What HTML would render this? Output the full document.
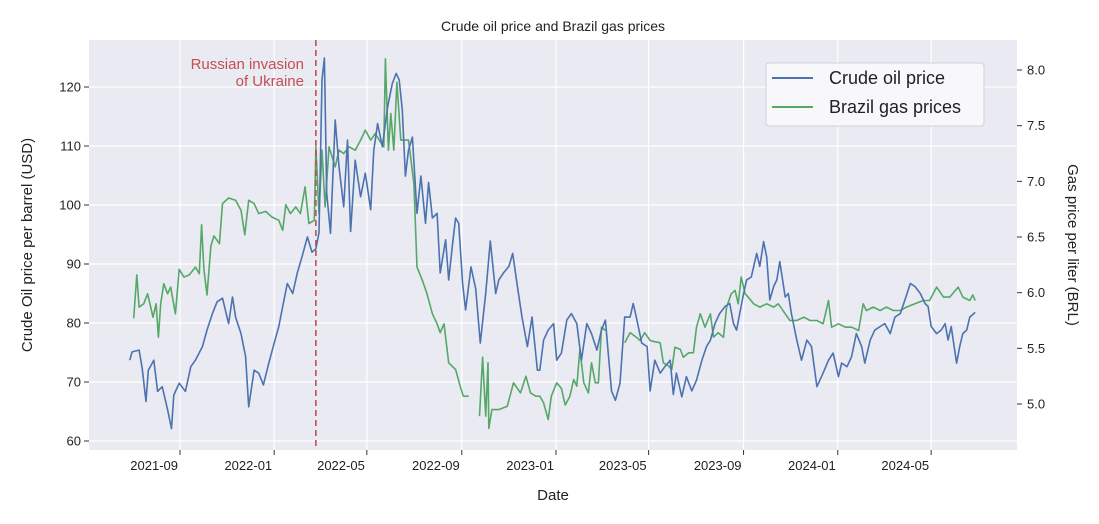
<!DOCTYPE html>
<html><head><meta charset="utf-8">
<style>
html,body{margin:0;padding:0;background:#fff;}
svg{display:block;font-family:"Liberation Sans","DejaVu Sans",sans-serif;}
</style></head>
<body>
<svg id="chart" width="1099" height="524" viewBox="0 0 1099 524" xmlns="http://www.w3.org/2000/svg">
<text x="553" y="31" font-size="14" text-anchor="middle" fill="#222">Crude oil price and Brazil gas prices</text>
<rect x="89" y="40" width="928" height="410" fill="#eaeaf2"/>
<g id="grid"></g>
<g id="series"></g>
<g id="axes"></g>
<text x="553" y="500" font-size="15" text-anchor="middle" fill="#222">Date</text>
<text transform="translate(32,245) rotate(-90)" font-size="15" text-anchor="middle" fill="#222">Crude Oil price per barrel (USD)</text>
<text transform="translate(1068,245) rotate(90)" font-size="15" text-anchor="middle" fill="#222">Gas price per liter (BRL)</text>
<text x="304" y="69" font-size="15" text-anchor="end" fill="#c44e52">Russian invasion</text>
<text x="304" y="86" font-size="15" text-anchor="end" fill="#c44e52">of Ukraine</text>
<g>
<rect x="766" y="63" width="218" height="63" rx="3" fill="#f8f8fb" stroke="#d0d0d8" stroke-width="1"/>
<line x1="772" y1="78" x2="813" y2="78" stroke="#4c72b0" stroke-width="2"/>
<text x="829" y="84" font-size="18" fill="#222">Crude oil price</text>
<line x1="772" y1="107" x2="813" y2="107" stroke="#55a868" stroke-width="2"/>
<text x="829" y="113" font-size="18" fill="#222">Brazil gas prices</text>
</g>
</svg>
<script>
// days since 2021-09-01
const crudeDays = [-65,-62,-53,-49,-44,-41,-34,-29,-23,-16,-11,-8,-1,7,14,20,29,35,42,48,55,63,68,72,79,85,89,96,102,108,115,122,128,133,139,146,152,158,165,171,176,180,184,187,190,195,201,206,212,217,221,227,234,240,247,251,256,262,269,275,280,284,288,292,296,301,307,312,318,322,327,333,337,344,348,353,357,361,366,370,377,383,389,396,402,409,413,419,426,431,437,443,450,456,463,466,471,477,484,488,494,501,507,514,520,527,533,540,546,551,559,564,570,576,583,587,591,598,605,609,615,622,628,635,639,643,650,656,663,669,676,682,687,693,699,706,712,717,721,725,730,734,740,747,751,756,760,764,769,773,777,784,788,792,799,805,812,818,825,833,840,846,853,857,864,870,876,883,887,894,900,907,913,920,926,933,939,946,952,959,965,969,973,980,986,991,995,999,1006,1010,1014,1019,1023,1030];
const crudeValues = [73.7,75.1,75.4,72.3,66.7,72.0,73.7,68.4,69.2,65.3,62.1,67.8,69.8,68.4,72.6,73.7,76.0,78.8,81.6,83.6,84.2,79.9,84.4,81.0,78.2,74.3,65.8,72.0,71.5,69.5,73.2,76.6,79.4,82.8,86.7,85.0,88.5,91.2,94.6,92.0,92.6,95.3,121.2,124.9,102.0,95.2,114.4,106.5,99.7,111.0,95.5,107.6,101.4,105.4,99.2,109.3,113.8,109.9,116.7,120.6,122.3,121.2,116.1,104.9,109.3,111.5,98.6,104.9,96.9,103.8,97.8,98.6,88.5,94.1,87.3,93.3,97.8,96.9,86.7,82.2,89.5,85.8,76.6,85.0,93.9,85.0,87.3,88.5,89.6,91.8,86.2,81.0,76.0,81.0,72.0,72.0,77.1,78.8,79.9,73.7,74.9,80.5,81.6,79.9,73.7,79.9,78.2,75.4,78.8,80.5,68.5,66.9,69.8,81.0,81.0,83.3,81.0,76.6,76.0,68.5,73.7,71.5,72.6,73.7,67.9,71.5,67.5,70.9,68.5,70.3,73.7,76.0,77.1,79.9,81.6,82.8,83.3,79.9,78.8,81.6,85.0,87.3,87.8,91.8,89.6,93.8,91.2,83.9,86.2,87.3,90.4,84.4,85.0,81.6,77.1,73.7,77.1,76.0,69.2,71.5,73.7,74.9,70.9,73.2,72.6,74.3,78.2,76.0,73.2,77.1,78.8,79.4,79.9,78.2,81.0,81.6,83.9,86.7,86.2,85.0,83.3,82.8,79.4,78.2,78.8,79.9,77.1,79.4,73.2,76.0,78.2,78.8,81.0,81.8];
const gasDays = [-60,-56,-53,-47,-42,-38,-35,-31,-28,-25,-21,-16,-12,-6,-1,5,12,20,25,28,31,35,40,44,51,55,63,72,79,84,89,96,102,111,119,128,133,137,143,150,156,162,167,174,176,180,184,188,193,201,206,212,219,227,234,240,247,253,258,264,266,270,273,277,281,286,290,296,303,307,314,320,327,333,337,342,348,357,363,367,374,380,388,392,396,399,400,404,413,424,432,441,448,454,461,466,471,477,481,488,494,499,505,510,514,518,523,529,533,538,542,546,551,560,576,583,591,596,602,609,615,622,626,633,637,641,648,652,659,665,669,674,680,687,691,697,704,708,714,719,723,727,732,736,743,751,760,769,775,784,790,799,808,816,825,833,840,844,853,862,870,879,885,889,898,907,915,924,933,941,952,963,971,980,989,997,1008,1014,1023,1027,1030];
const gasValues = [5.77,6.16,5.87,5.90,5.99,5.87,5.78,5.90,5.60,5.90,6.08,5.99,6.05,5.81,6.21,6.14,6.16,6.23,6.17,6.61,6.21,5.98,6.42,6.51,6.44,6.80,6.85,6.83,6.74,6.52,6.83,6.80,6.71,6.73,6.68,6.65,6.56,6.79,6.71,6.77,6.71,6.95,6.62,6.65,7.31,6.71,7.28,6.77,7.31,7.13,7.28,7.25,7.31,7.28,7.37,7.46,7.37,7.43,7.37,7.31,8.10,7.28,7.61,7.28,7.89,7.37,7.37,7.37,6.98,6.23,6.11,5.99,5.81,5.72,5.64,5.72,5.37,5.31,5.16,5.07,5.07,null,4.89,5.42,4.89,5.37,4.78,4.95,4.95,4.98,5.19,5.10,5.25,5.10,5.07,5.07,5.01,4.86,5.07,5.19,5.14,4.99,5.07,5.22,5.16,5.49,5.19,5.10,5.37,5.19,5.19,5.69,5.66,null,5.55,5.64,5.60,5.57,5.64,5.57,5.56,5.55,5.37,5.34,5.31,5.51,5.49,5.42,5.46,5.46,5.69,5.81,5.69,5.81,5.60,5.64,5.60,5.87,5.99,6.02,5.90,6.14,5.99,5.96,5.90,5.87,5.90,5.87,5.90,5.81,5.75,5.75,5.78,5.75,5.75,5.72,5.93,5.69,5.72,5.69,5.69,5.66,5.90,5.84,5.87,5.84,5.87,5.84,5.84,5.87,5.90,5.93,5.93,6.05,5.96,5.96,6.05,5.96,5.93,5.98,5.93];
const xTickLabels = ["2021-09","2022-01","2022-05","2022-09","2023-01","2023-05","2023-09","2024-01","2024-05"];
const xTickDays = [0,122,242,365,487,607,730,852,973];
const leftTicks = [60,70,80,90,100,110,120];
const rightTicks = [5.0,5.5,6.0,6.5,7.0,7.5,8.0];
const invasionDay = 176;

const NS="http://www.w3.org/2000/svg";
const X0=89,X1=1017,Y0=40,Y1=450;
function xScale(d){return 180+d*0.772;}
function yLeft(v){return 441-(v-60)*5.9;}
function yRight(v){return 404-(v-5)*111.33;}
function mk(tag,attrs,parent){const e=document.createElementNS(NS,tag);for(const k in attrs)e.setAttribute(k,attrs[k]);parent.appendChild(e);return e;}
const grid=document.getElementById('grid'),axes=document.getElementById('axes'),series=document.getElementById('series');

leftTicks.forEach(v=>{
  const y=yLeft(v);
  const g=mk('line',{x1:X0,x2:X1,y1:y,y2:y,stroke:'#fff','stroke-width':1.2},grid);
  
  
  mk('line',{x1:X0-5,x2:X0,y1:y,y2:y,stroke:'#333','stroke-width':1},axes);
  const t=mk('text',{x:X0-8,y:y+4.5,'font-size':13,'text-anchor':'end',fill:'#222'},axes);
  t.textContent=String(v);
  
  
});
rightTicks.forEach(v=>{
  const y=yRight(v);
  mk('line',{x1:X1,x2:X1+5,y1:y,y2:y,stroke:'#333','stroke-width':1},axes);
  const t=mk('text',{x:X1+10,y:y+4.5,'font-size':13,'text-anchor':'start',fill:'#222'},axes);
  t.textContent=v.toFixed(1);
  
  
});
xTickDays.forEach((d,i)=>{
  const x=xScale(d);
  const g=mk('line',{x1:x,x2:x,y1:Y0,y2:Y1,stroke:'#fff','stroke-width':1.2},grid);
  
  
  mk('line',{x1:x,x2:x,y1:Y1,y2:Y1+5,stroke:'#333','stroke-width':1},axes);
  const t=mk('text',{x:x-2,y:Y1+20,'font-size':13,'text-anchor':'end',fill:'#222'},axes);
  t.textContent=xTickLabels[i];
  
  
});

function pathFor(days,vals,ys){
  let d='',pen=false;
  for(let i=0;i<days.length;i++){
    if(vals[i]===null){pen=false;continue;}
    d+=(pen?'L':'M')+xScale(days[i]).toFixed(1)+','+ys(vals[i]).toFixed(1);
    pen=true;
  }
  return d;
}
const gp=mk('path',{d:pathFor(gasDays,gasValues,yRight),fill:'none',stroke:'#55a868','stroke-width':1.6,'stroke-linejoin':'round'},series);


const cp=mk('path',{d:pathFor(crudeDays,crudeValues,yLeft),fill:'none',stroke:'#4c72b0','stroke-width':1.6,'stroke-linejoin':'round'},series);


const ix=xScale(invasionDay);
const il=mk('line',{x1:ix,x2:ix,y1:Y0,y2:Y1,stroke:'#c44e52','stroke-width':1.6,'stroke-dasharray':'6,4'},series);


</script>
</body></html>
